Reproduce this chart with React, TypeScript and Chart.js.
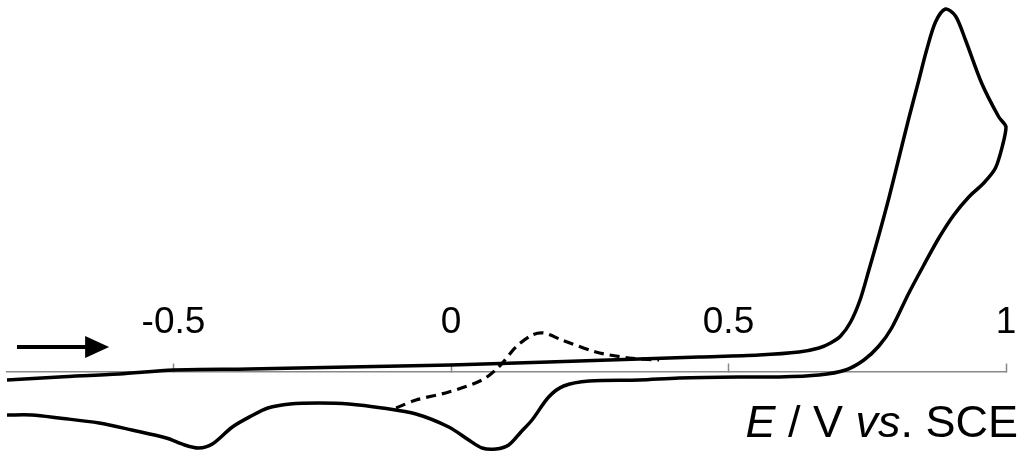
import React, { useEffect, useRef } from "react";
import { Chart, registerables } from "chart.js";

Chart.register(...registerables);

// Potential (V vs. SCE) and current (arbitrary units) of the CV scan
const cvPotential = [
  -0.8, -0.706, -0.598, -0.5, -0.364, -0.184, 0, 0.176, 0.339, 0.447, 0.555, 0.627, 0.663, 0.684,
  0.702, 0.72, 0.737, 0.753, 0.771, 0.789, 0.807, 0.825, 0.843, 0.857, 0.873, 0.891, 0.909, 0.927,
  0.956, 0.987, 1.0,
  0.994, 0.981, 0.96, 0.933, 0.906, 0.879, 0.852, 0.825, 0.794, 0.771, 0.744, 0.711, 0.663, 0.591,
  0.519, 0.411, 0.339, 0.249,
  0.203, 0.176, 0.146, 0.126, 0.104, 0.081, 0.056, 0.032, -0.004, -0.063, -0.124, -0.184, -0.238, -0.29,
  -0.33, -0.36, -0.394, -0.43, -0.455, -0.48, -0.513, -0.575, -0.634, -0.706, -0.755, -0.8,
];
const cvCurrent = [
  -8, -5, -2, 2, 3, 5, 7, 10, 13, 15, 17, 20, 24, 29,
  36, 50, 72, 102, 137, 174, 214, 254, 292, 322, 350, 363, 356, 332,
  289, 255, 245,
  227, 204, 189, 175, 157, 134, 107, 79, 44, 26, 12, 2, -3, -5,
  -5, -6, -8, -9,
  -14, -25, -48, -60, -73, -77, -76, -68, -55, -42, -36, -32, -31, -32,
  -36, -44, -55, -72, -76, -73, -66, -58, -51, -46, -43, -43,
];

// Dashed scan (partial sweep)
const dashPotential = [-0.099, -0.063, -0.004, 0.056, 0.086, 0.117, 0.146, 0.167, 0.2, 0.261, 0.321, 0.375];
const dashCurrent = [-36, -28, -20, -8, 5, 25, 37, 39, 32, 20, 14, 12];

// Axis ticks
const tickValues = [-0.5, 0, 0.5, 1];
const tickLabels = ["-0.5", "0", "0.5", "1"];

// Scan direction arrow (in data units)
const arrowStartX = -0.782;
const arrowEndX = -0.616;
const arrowY = 25;

const FONT = "'Liberation Sans', Arial, sans-serif";

const overlayPlugin = {
  id: "overlay",
  afterDraw(chart: any) {
    const { ctx, scales } = chart;
    const xs = scales.x;
    const ys = scales.y;
    ctx.save();
    // arrow
    const x0 = xs.getPixelForValue(arrowStartX);
    const x1 = xs.getPixelForValue(arrowEndX);
    const y = ys.getPixelForValue(arrowY);
    ctx.strokeStyle = "#000";
    ctx.fillStyle = "#000";
    ctx.lineWidth = 4;
    ctx.beginPath();
    ctx.moveTo(x0, y);
    ctx.lineTo(x1 - 20, y);
    ctx.stroke();
    ctx.beginPath();
    ctx.moveTo(x1, y);
    ctx.lineTo(x1 - 24, y - 11);
    ctx.lineTo(x1 - 24, y + 11);
    ctx.closePath();
    ctx.fill();

    // axis title with mixed styles
    const parts: [string, boolean][] = [
      ["E", true],
      [" / V ", false],
      ["vs", true],
      [". SCE", false],
    ];
    const size = 45;
    let total = 0;
    for (const [t, it] of parts) {
      ctx.font = `${it ? "italic " : ""}${size}px ${FONT}`;
      total += ctx.measureText(t).width;
    }
    let tx = 1018 - total;
    const ty = 437;
    ctx.textBaseline = "alphabetic";
    ctx.textAlign = "left";
    for (const [t, it] of parts) {
      ctx.font = `${it ? "italic " : ""}${size}px ${FONT}`;
      ctx.fillText(t, tx, ty);
      tx += ctx.measureText(t).width;
    }
    ctx.restore();
  },
};

export default function App() {
  const ref = useRef<HTMLCanvasElement | null>(null);
  useEffect(() => {
    if (!ref.current) return;
    const chart = new Chart(ref.current, {
      type: "line",
      data: {
        datasets: [
          {
            data: cvPotential.map((x, i) => ({ x, y: cvCurrent[i] })),
            borderColor: "#000",
            borderWidth: 3.5,
            pointRadius: 0,
            tension: 0.3,
            fill: false,
            clip: false,
          },
          {
            data: dashPotential.map((x, i) => ({ x, y: dashCurrent[i] })),
            borderColor: "#000",
            borderWidth: 3.2,
            borderDash: [10, 6],
            pointRadius: 0,
            tension: 0.3,
            fill: false,
            clip: false,
          },
        ],
      },
      options: {
        animation: false,
        responsive: false,
        maintainAspectRatio: false,
        layout: { padding: { left: 7, right: 18, top: 0, bottom: 0 } },
        plugins: { legend: { display: false }, tooltip: { enabled: false }, title: { display: false } },
        scales: {
          x: {
            type: "linear",
            position: { y: 0 } as any,
            min: -0.8,
            max: 1.0,
            afterBuildTicks: (s: any) => {
              s.ticks = tickValues.map((v) => ({ value: v }));
            },
            ticks: {
              autoSkip: false,
              maxRotation: 0,
              padding: -62,
              color: "#000",
              font: { family: FONT, size: 37 },
              callback: (v: any) => {
                const i = tickValues.indexOf(Number(v));
                return i >= 0 ? tickLabels[i] : "";
              },
            },
            grid: {
              drawOnChartArea: false,
              drawTicks: true,
              tickLength: -9,
              color: "#888",
              tickWidth: 1.5,
            },
            border: { display: true, color: "#888", width: 1.5 },
          },
          y: {
            type: "linear",
            display: false,
            min: -90,
            max: 372,
          },
        },
      },
      plugins: [overlayPlugin],
    });
    return () => chart.destroy();
  }, []);
  return (
    <div style={{ position: "fixed", left: 0, top: 0, width: 1024, height: 462, background: "#fff" }}>
      <canvas ref={ref} width={1024} height={462} style={{ display: "block" }} />
    </div>
  );
}
